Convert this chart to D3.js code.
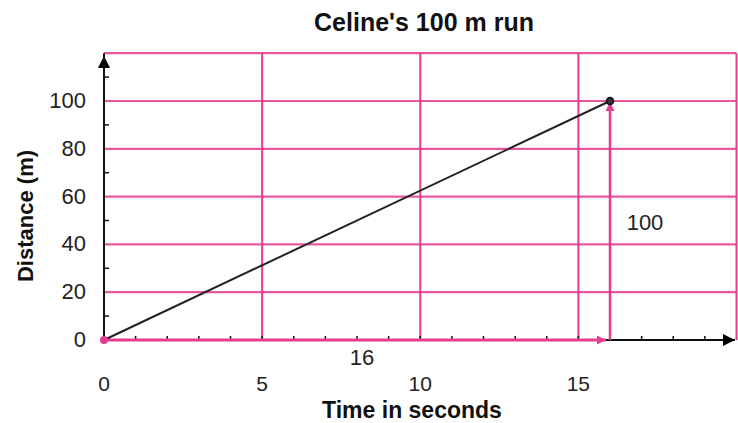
<!DOCTYPE html>
<html><head><meta charset="utf-8">
<script src="https://cdn.jsdelivr.net/npm/d3@7"></script>
<style>body{margin:0;background:#fff;} text{font-family:"Liberation Sans",Arial,sans-serif;}</style>
</head><body><svg id="c" width="738" height="423"></svg>
<script>
const xMajorTicks = [0, 5, 10, 15];
const yMajorTicks = [0, 20, 40, 60, 80, 100];
const xMinor = d3.range(1, 20);
const yMinor = [10, 30, 50, 70, 90, 110];
const runTime = [0, 16];
const runDist = [0, 100];
const title = "Celine's 100 m run";
const xTitle = "Time in seconds";
const yTitle = "Distance (m)";

const pink = "#e63c8f";
const svg = d3.select("#c");
const x = d3.scaleLinear().domain([0, 16]).range([104, 610]);
const y = d3.scaleLinear().domain([0, 100]).range([340, 101]);
const xMax = 20, yMax = 120;

const defs = svg.append("defs");
function marker(id, color, w, h){
  defs.append("marker").attr("id", id).attr("viewBox","0 0 10 10").attr("refX",10).attr("refY",5)
    .attr("markerWidth",w).attr("markerHeight",h).attr("orient","auto").attr("markerUnits","userSpaceOnUse")
    .append("path").attr("d","M0,0 L10,5 L0,10 z").attr("fill",color);
}
marker("ab","#000",15,12);
marker("ap","#e63c8f",13,9);

const g = svg.append("g");
g.selectAll(".hg").data(yMajorTicks.filter(d=>d>0).concat([yMax])).join("line")
  .attr("x1", x(0)).attr("x2", x(xMax)).attr("y1", d=>y(d)).attr("y2", d=>y(d))
  .attr("stroke", pink).attr("stroke-width", 2.2).attr("opacity",0.85);
g.selectAll(".vg").data(xMajorTicks.filter(d=>d>0).concat([xMax])).join("line")
  .attr("x1", d=>x(d)).attr("x2", d=>x(d)).attr("y1", y(0)).attr("y2", y(yMax))
  .attr("stroke", pink).attr("stroke-width", 2);

g.append("line").attr("x1", x(0)).attr("x2", 735).attr("y1", y(0)).attr("y2", y(0))
  .attr("stroke","#111").attr("stroke-width",2).attr("marker-end","url(#ab)");
g.append("line").attr("x1", x(0)).attr("x2", x(0)).attr("y1", y(0)).attr("y2", 56)
  .attr("stroke","#111").attr("stroke-width",2).attr("marker-end","url(#ab)");
g.append("line").attr("x1", x(0)).attr("x2", x(0)).attr("y1", 70).attr("y2", y(yMax))
  .attr("stroke","#111").attr("stroke-width",2);
g.selectAll(".xm").data(xMinor).join("line")
  .attr("x1", d=>x(d)).attr("x2", d=>x(d)).attr("y1", y(0)).attr("y2", y(0)-4)
  .attr("stroke","#111").attr("stroke-width",1.5);
g.selectAll(".ym").data(yMinor).join("line")
  .attr("x1", x(0)).attr("x2", x(0)+5).attr("y1", d=>y(d)).attr("y2", d=>y(d))
  .attr("stroke","#111").attr("stroke-width",1.5);

g.selectAll(".xl").data(xMajorTicks).join("text")
  .attr("x", d=>x(d)).attr("y", 391).attr("text-anchor","middle")
  .attr("font-size",21).attr("fill","#222").text(d=>d);
g.selectAll(".yl").data(yMajorTicks).join("text")
  .attr("x", 86).attr("y", d=>y(d)+7).attr("text-anchor","end")
  .attr("font-size",22).attr("fill","#222").text(d=>d);

g.append("line").attr("x1", x(0)).attr("x2", x(runTime[1])-4).attr("y1", y(0)).attr("y2", y(0))
  .attr("stroke", pink).attr("stroke-width",3).attr("marker-end","url(#ap)");
g.append("line").attr("x1", x(runTime[1])).attr("x2", x(runTime[1])).attr("y1", y(0)).attr("y2", y(runDist[1])+1)
  .attr("stroke", pink).attr("stroke-width",2.5).attr("marker-end","url(#ap)");

g.append("line").attr("x1", x(runTime[0])).attr("y1", y(runDist[0])).attr("x2", x(runTime[1])).attr("y2", y(runDist[1]))
  .attr("stroke","#222").attr("stroke-width",2);
g.append("circle").attr("cx", x(runTime[1])).attr("cy", y(runDist[1])).attr("r",3.5)
  .attr("fill","#333").attr("stroke","#111").attr("stroke-width",1.5);
g.append("circle").attr("cx", x(0)).attr("cy", y(0)).attr("r",4).attr("fill",pink);

g.append("text").attr("x", (x(0)+x(runTime[1]))/2 + 5).attr("y", 365).attr("text-anchor","middle")
  .attr("font-size",22).attr("fill","#222").text(runTime[1]);
g.append("text").attr("x", 645).attr("y", 230).attr("text-anchor","middle")
  .attr("font-size",22).attr("fill","#222").text(runDist[1]);

svg.append("text").attr("x", 424).attr("y", 31).attr("text-anchor","middle")
  .attr("font-size",25).attr("font-weight","bold").attr("fill","#111").text(title);
svg.append("text").attr("x", 412).attr("y", 418).attr("text-anchor","middle")
  .attr("font-size",23).attr("font-weight","bold").attr("fill","#111").text(xTitle);
svg.append("text").attr("transform","translate(33,216) rotate(-90)").attr("text-anchor","middle")
  .attr("font-size",22).attr("font-weight","bold").attr("fill","#111").text(yTitle);
</script></body></html>
